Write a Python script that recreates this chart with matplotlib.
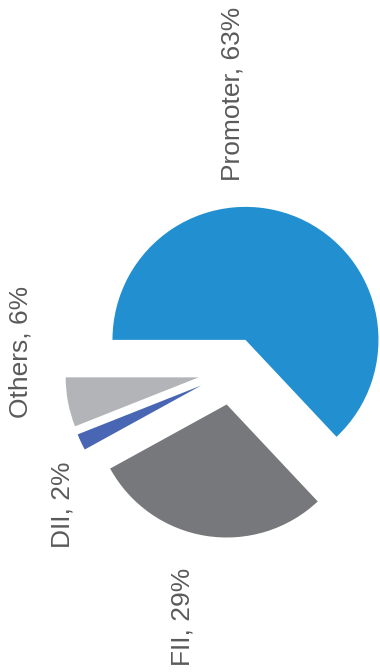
import matplotlib.pyplot as plt

# shareholding pattern
holders = ['Promoter', 'FII', 'DII', 'Others']
shares = [63, 29, 2, 6]
colors = ['#2290D0', '#77787B', '#4866B3', '#B3B4B8']

plt.rcParams['font.family'] = ['Liberation Sans', 'DejaVu Sans']

W, H = 380, 672
fig = plt.figure(figsize=(W / 100, H / 100), dpi=100)
ax = fig.add_axes([0, 0, 1, 1])

# pixel-based frame, pie radius = 1 unit
R = 133.0
cx, cy = 232, H - 371
ax.pie(shares, colors=colors, startangle=180, counterclock=False,
       explode=[0.255] * len(shares), radius=1.0, center=(0, 0),
       wedgeprops=dict(linewidth=0))
ax.set_xlim(-cx / R, (W - cx) / R)
ax.set_ylim(-cy / R, (H - cy) / R)
ax.set_aspect('equal')
ax.axis('off')

# rotated labels
label_pos = {
    'Promoter': (232, 94),
    'FII': (182, 617),
    'DII': (62, 505),
    'Others': (20, 352),
}
for name, val in zip(holders, shares):
    px, py = label_pos[name]
    ax.text((px - cx) / R, (H - py - cy) / R, f'{name}, {val}%',
            rotation=90, ha='center', va='center', fontsize=19,
            color='#5a5a5a')

fig.savefig('out.png', dpi=100)
